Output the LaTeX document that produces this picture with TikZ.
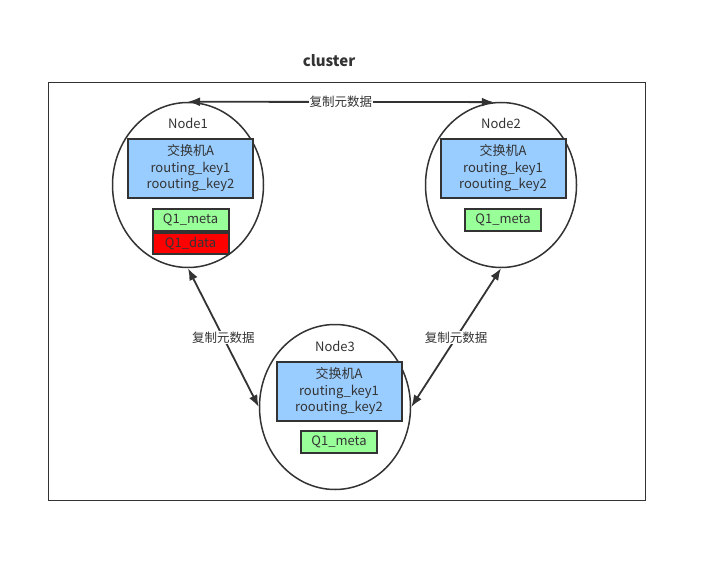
\documentclass[tikz,border=0pt]{standalone}
\usepackage{fontspec}
\setmainfont{Noto Sans CJK SC}
\usetikzlibrary{positioning,shapes.geometric,arrows.meta}
\definecolor{linegray}{HTML}{333333}
\definecolor{boxblue}{HTML}{99CCFF}
\definecolor{metagreen}{HTML}{99FF99}
\definecolor{datared}{HTML}{FF0000}

\begin{document}
\begin{tikzpicture}[
x=1pt, y=-1pt,
every node/.style = {text=linegray, font=\fontsize{13}{16.5}\selectfont},
server/.style = {shape=ellipse, draw=linegray, line width=1.5pt, minimum width=151pt, minimum height=165pt, inner sep=0pt},
exchange/.style = {shape=rectangle, draw=linegray, line width=2pt, fill=boxblue, align=center, minimum width=125pt, minimum height=59pt, inner sep=0pt},
queue/.style = {shape=rectangle, draw=linegray, line width=2pt, minimum width=76pt, minimum height=21.5pt, inner sep=0pt},
sync/.style = {draw=linegray, line width=1.8pt, {Latex[length=12pt,width=9pt]}-{Latex[length=12pt,width=9pt]}},
synclabel/.style = {fill=white, inner sep=1pt, font=\fontsize{12.5}{14}\selectfont},
]
  \useasboundingbox (0,0) rectangle (708,564);
  % cluster frame
  \node[font=\fontsize{15}{18}\selectfont\bfseries] (title) at (329,61) {cluster};
  \node[draw=linegray, line width=1.5pt, minimum width=597pt, minimum height=418pt, inner sep=0pt] (cluster) at (347,291.5) {};

  % Node1
  \node[server] (node1) at (188,185) {};
  \node (name1) at (188,123) {Node1};
  \node[exchange] (ex1) at (190.5,168.5) {交换机A\\routing\_key1\\roouting\_key2};
  \node[queue, fill=metagreen, below=9pt of ex1] (meta1) {Q1\_meta};
  \node[queue, fill=datared, below=0pt of meta1] (data1) {Q1\_data};

  % Node2
  \node[server] (node2) at (501,185) {};
  \node (name2) at (501,123) {Node2};
  \node[exchange] (ex2) at (503,168.5) {交换机A\\routing\_key1\\roouting\_key2};
  \node[queue, fill=metagreen, below=9pt of ex2] (meta2) {Q1\_meta};

  % Node3
  \node[server] (node3) at (335,407) {};
  \node (name3) at (335,346) {Node3};
  \node[exchange] (ex3) at (339,391.5) {交换机A\\routing\_key1\\roouting\_key2};
  \node[queue, fill=metagreen, below=8pt of ex3] (meta3) {Q1\_meta};

  % replication
  \draw[sync] (node1.north) -- node[synclabel] {复制元数据} (node2.95);
  \draw[sync] (node1.south) -- node[synclabel] {复制元数据} (node3.west);
  \draw[sync] (node2.south) -- node[synclabel] {复制元数据} (node3.east);
\end{tikzpicture}
\end{document}
